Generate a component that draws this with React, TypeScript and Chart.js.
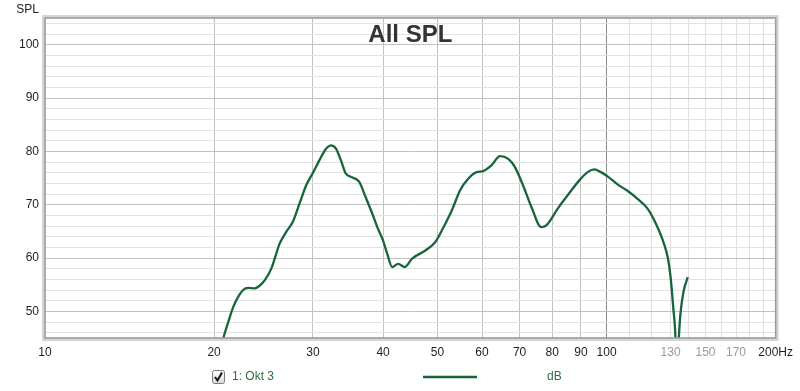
import React, { useEffect, useRef } from 'react';
import { Chart, registerables } from 'chart.js';

Chart.register(...registerables);

// Frequency response samples (Hz) and SPL (dB)
const freqHz = [
  20.3, 20.77, 21.2, 21.63, 22.1, 22.53, 23.0, 23.63, 24.1, 24.61, 25.29, 26.17, 26.89, 27.63,
  28.39, 29.17, 29.97, 30.8, 31.65, 32.29, 32.97, 33.65, 34.34, 35.28, 36.25, 37.24, 38.27,
  39.06, 39.98, 40.68, 41.52, 42.55, 43.72, 45.05, 47.57, 49.55, 51.26, 53.03, 54.85, 56.75,
  58.7, 60.32, 62.41, 64.57, 66.8, 68.64, 71.01, 73.46, 76.5, 78.08, 81.9, 85.3, 89.5, 92.55,
  95.1, 97.7, 100.4, 104.6, 108.9, 113.5, 118.2, 122.3, 126.5, 128.6, 130.0, 131.4, 132.6,
  133.3, 134.5, 135.3, 136.3, 137.2, 139.5,
];
const splDb = [
  40.0, 44.9, 48.0, 50.8, 52.8, 54.0, 54.4, 54.3, 54.8, 55.8, 58.0, 62.7, 64.9, 66.8,
  70.2, 73.6, 75.9, 78.3, 80.5, 81.1, 80.5, 78.3, 75.8, 75.1, 74.3, 71.4, 68.3,
  65.8, 63.3, 60.8, 58.3, 58.9, 58.3, 59.9, 61.4, 63.0, 65.8, 68.95, 72.7, 74.9,
  76.1, 76.3, 77.4, 79.1, 78.6, 77.1, 73.6, 69.6, 65.8, 66.1, 69.3, 71.8, 74.6, 76.1,
  76.6, 76.1, 75.3, 73.8, 72.6, 71.1, 69.3, 66.5, 62.7, 59.9, 56.4, 50.8, 45.2,
  36.0, 45.2, 49.3, 52.1, 53.9, 56.4,
];

// Axis ticks
const xGridHz = [10, 20, 30, 40, 50, 60, 70, 80, 90, 100, 110, 120, 130, 140, 150, 160, 170, 180, 190, 200];
const xLabelHz = [10, 20, 30, 40, 50, 60, 70, 80, 90, 100, 130, 150, 170, 200];
const xLabelText = ['10', '20', '30', '40', '50', '60', '70', '80', '90', '100', '130', '150', '170', '200Hz'];
const yGridDb = [46, 48, 50, 52, 54, 56, 58, 60, 62, 64, 66, 68, 70, 72, 74, 76, 78, 80, 82, 84, 86, 88, 90, 92, 94, 96, 98, 100, 102, 104];
const yLabelDb = [50, 60, 70, 80, 90, 100];

const FONT = "'Liberation Sans', Arial, sans-serif";
const LINE_COLOR = '#17653a';
const TEXT_GREEN = '#2f6e42';

const decorPlugin = {
  id: 'decor',
  afterDraw(chart: any) {
    const { ctx, chartArea } = chart;
    const { left, top, right, bottom } = chartArea;
    ctx.save();
    // frame
    ctx.strokeStyle = '#d6d6d6';
    ctx.lineWidth = 3;
    ctx.strokeRect(left - 1.5, top - 1.5, right - left + 3, bottom - top + 3);
    ctx.strokeStyle = '#9c9c9c';
    ctx.lineWidth = 1.6;
    ctx.strokeRect(left, top, right - left, bottom - top);

    // title
    ctx.fillStyle = '#333333';
    ctx.font = `bold 24px ${FONT}`;
    ctx.textAlign = 'center';
    ctx.textBaseline = 'alphabetic';
    ctx.fillText('All SPL', (left + right) / 2, 42);

    // axis name
    ctx.font = `12px ${FONT}`;
    ctx.fillStyle = '#222222';
    ctx.textAlign = 'right';
    ctx.fillText('SPL', 39, 12.5);

    // legend: checkbox
    const bx = 212, by = 370, bw = 12, bh = 13;
    const g = ctx.createLinearGradient(0, by, 0, by + bh);
    g.addColorStop(0, '#ffffff');
    g.addColorStop(1, '#dcdcdc');
    ctx.fillStyle = g;
    ctx.beginPath();
    ctx.roundRect(bx + 0.5, by + 0.5, bw, bh, 2);
    ctx.fill();
    ctx.strokeStyle = '#7a7a7a';
    ctx.lineWidth = 1;
    ctx.stroke();
    ctx.strokeStyle = '#111111';
    ctx.lineWidth = 2;
    ctx.beginPath();
    ctx.moveTo(bx + 3, by + 7);
    ctx.lineTo(bx + 5.5, by + 10.5);
    ctx.lineTo(bx + 10, by + 2.5);
    ctx.stroke();

    ctx.fillStyle = TEXT_GREEN;
    ctx.font = `12px ${FONT}`;
    ctx.textAlign = 'left';
    ctx.textBaseline = 'middle';
    ctx.fillText('1: Okt 3', 232, 377);
    ctx.fillText('dB', 547, 377);

    ctx.strokeStyle = LINE_COLOR;
    ctx.lineWidth = 2.5;
    ctx.beginPath();
    ctx.moveTo(423, 377);
    ctx.lineTo(477, 377);
    ctx.stroke();
    ctx.restore();
  },
};

export default function App() {
  const ref = useRef<HTMLCanvasElement | null>(null);

  useEffect(() => {
    if (!ref.current) return;
    const data = freqHz.map((f, i) => ({ x: f, y: splDb[i] }));
    const chart = new Chart(ref.current, {
      type: 'line',
      data: {
        datasets: [
          {
            label: '1: Okt 3',
            data,
            borderColor: LINE_COLOR,
            borderWidth: 2.3,
            pointRadius: 0,
            fill: false,
            cubicInterpolationMode: 'monotone',
            clip: 0,
          } as any,
        ],
      },
      options: {
        responsive: false,
        animation: false,
        events: [],
        layout: { padding: { top: 18, right: 22, left: 0, bottom: 0 } },
        plugins: {
          legend: { display: false },
          tooltip: { enabled: false },
          title: { display: false },
        },
        scales: {
          x: {
            type: 'logarithmic',
            min: 10,
            max: 200,
            afterBuildTicks: (s: any) => {
              s.ticks = xGridHz.map((v) => ({ value: v }));
            },
            afterFit: (s: any) => {
              s.height = 53;
            },
            border: { display: false },
            grid: {
              drawTicks: false,
              lineWidth: 1,
              color: (c: any) => {
                const v = c.tick ? c.tick.value : 0;
                if (v === 10 || v === 200) return 'rgba(0,0,0,0)';
                if (v === 100) return '#8a8a8a';
                if (v < 100) return '#c2c2c2';
                return '#e0e0e0';
              },
            },
            ticks: {
              autoSkip: false,
              maxRotation: 0,
              minRotation: 0,
              padding: 7,
              font: { size: 12, family: FONT },
              color: (c: any) => {
                const v = c.tick ? c.tick.value : 0;
                return v > 100 && v < 200 ? '#9a9a9a' : '#1e1e1e';
              },
              callback: (v: any) => {
                const i = xLabelHz.indexOf(Number(v));
                return i >= 0 ? xLabelText[i] : '';
              },
            },
          },
          y: {
            type: 'linear',
            min: 45,
            max: 105,
            afterBuildTicks: (s: any) => {
              s.ticks = yGridDb.map((v) => ({ value: v }));
            },
            afterFit: (s: any) => {
              s.width = 45;
            },
            border: { display: false },
            grid: {
              drawTicks: false,
              lineWidth: 1,
              color: (c: any) => {
                const v = c.tick ? c.tick.value : 0;
                return v % 10 === 0 ? '#c2c2c2' : '#e2e2e2';
              },
            },
            ticks: {
              autoSkip: false,
              padding: 6,
              font: { size: 12, family: FONT },
              color: '#1e1e1e',
              callback: (v: any) => (yLabelDb.includes(Number(v)) ? String(v) : ''),
            },
          },
        },
      } as any,
      plugins: [decorPlugin],
    });
    return () => chart.destroy();
  }, []);

  return (
    <div style={{ position: 'absolute', left: 0, top: 0, width: 800, height: 391, background: '#ffffff' }}>
      <canvas ref={ref} width={800} height={391} style={{ display: 'block' }} />
    </div>
  );
}
